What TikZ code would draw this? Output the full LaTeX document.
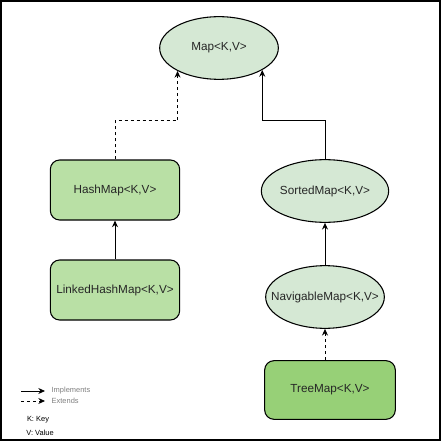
\documentclass[tikz,border=0pt]{standalone}
\usepackage{fontspec}
\setmainfont{Liberation Sans}
\usetikzlibrary{shapes.geometric, positioning, arrows.meta}
\definecolor{ifacefill}{HTML}{D5E8D4}
\definecolor{classfill}{HTML}{B9E0A5}
\definecolor{leaffill}{HTML}{97D077}
\tikzset{
    >={Stealth[length=5pt, width=4.5pt]}, % arrow heads of all connectors
    iface/.style={ellipse, draw, thick, fill=ifacefill, minimum width=89pt, minimum height=47pt, inner sep=0pt, text=black!85, font=\fontsize{8.8}{10}\selectfont}, % interfaces
    classbox/.style={rectangle, rounded corners=7pt, draw, thick, fill=classfill, minimum width=97pt, minimum height=45pt, text=black!85, font=\fontsize{8.8}{10}\selectfont}, % classes
    implements/.style={->, line width=0.75pt},
    extends/.style={->, line width=0.75pt, dash pattern=on 2.25pt off 2.25pt},
    legend/.style={inner sep=1pt, outer sep=4pt, font=\fontsize{5.6}{6}\selectfont},
}

\begin{document}
\begin{tikzpicture}[x=0.75pt, y=-0.75pt]
    \useasboundingbox (0,0) rectangle (442,442);
    \draw[line width=1.2pt] (1,1) rectangle (440,440);
    % interfaces
    \node[iface] (map) at (219,48) {Map<K,V>};
    \node[iface] (sorted) at (325,191) {SortedMap<K,V>};
    \node[iface] (navig) at (325,297) {\makebox[0pt]{NavigableMap<K,V>}};
    % classes
    \node[classbox] (hash) at (115,190) {HashMap<K,V>};
    \node[classbox] (linked) at (115,290) {LinkedHashMap<K,V>};
    \node[classbox, fill=leaffill, minimum width=98pt, minimum height=44pt] (tree) at (330,390) {TreeMap<K,V>};
    % connectors
    \coordinate (split) at (0,121);
    \draw[implements] (linked) -- (hash);
    \draw[extends] (hash.north) -- (hash.north |- split) -| (map.209);
    \draw[implements] (sorted.north) -- (sorted.north |- split) -| (map.333);
    \draw[implements] (navig) -- (sorted);
    \draw[extends] (tree.north -| navig) -- (navig);
    % legend
    \coordinate (impA) at (21,391);
    \coordinate (extA) at (21,401);
    \node[legend, anchor=west, text=gray] (impT) at (45,391) {Implements};
    \node[legend, anchor=west, text=gray] (extT) at (45,401) {Extends};
    \draw[implements, line width=0.6pt] (impA) -- (impT.west);
    \draw[extends, line width=0.6pt] (extA) -- (extT.west);
    \node[legend] (key) at (38,420) {K: Key};
    \node[legend] (value) at (40,433) {V: Value};
\end{tikzpicture}
\end{document}
